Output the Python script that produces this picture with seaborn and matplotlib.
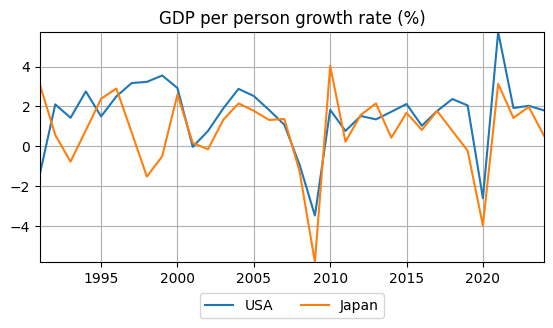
import matplotlib
matplotlib.use("Agg")
import matplotlib.pyplot as plt
import seaborn as sns
import pandas as pd

years = list(range(1991, 2025))
usa = [-1.35, 2.1, 1.43, 2.75, 1.5, 2.5, 3.17, 3.23, 3.55, 2.92,
       -0.03, 0.77, 1.9, 2.88, 2.52, 1.82, 1.08, -0.93, -3.47, 1.83,
       0.77, 1.52, 1.35, 1.73, 2.12, 1.03, 1.77, 2.37, 2.05, -2.6,
       5.73, 1.92, 2.03, 1.8]
japan = [3.07, 0.57, -0.77, 0.8, 2.38, 2.9, 0.7, -1.52, -0.5, 2.6,
         0.17, -0.15, 1.33, 2.15, 1.78, 1.32, 1.37, -1.27, -5.8, 4.03,
         0.23, 1.57, 2.15, 0.43, 1.68, 0.82, 1.77, 0.77, -0.22, -3.97,
         3.13, 1.42, 1.98, 0.53]

df = pd.DataFrame({"year": years * 2,
                   "value": usa + japan,
                   "country": ["USA"] * len(years) + ["Japan"] * len(years)})

fig, ax = plt.subplots(figsize=(5.53, 3.28), dpi=100)
fig.subplots_adjust(left=40/553, right=544/553, top=1-32/328, bottom=1-262/328)
sns.lineplot(data=df, x="year", y="value", hue="country", ax=ax,
             palette=["#1f77b4", "#ff7f0e"], legend=True)
ax.set_xlim(min(years), max(years))
ax.set_ylim(min(usa + japan), max(usa + japan))
ax.set_xlabel("")
ax.set_ylabel("")
ax.set_title("GDP per person growth rate (%)")
ax.grid(True)
ax.legend(loc="center", bbox_to_anchor=(0.5, -0.19), ncol=2, title=None)
fig.savefig("out.png", dpi=100)
